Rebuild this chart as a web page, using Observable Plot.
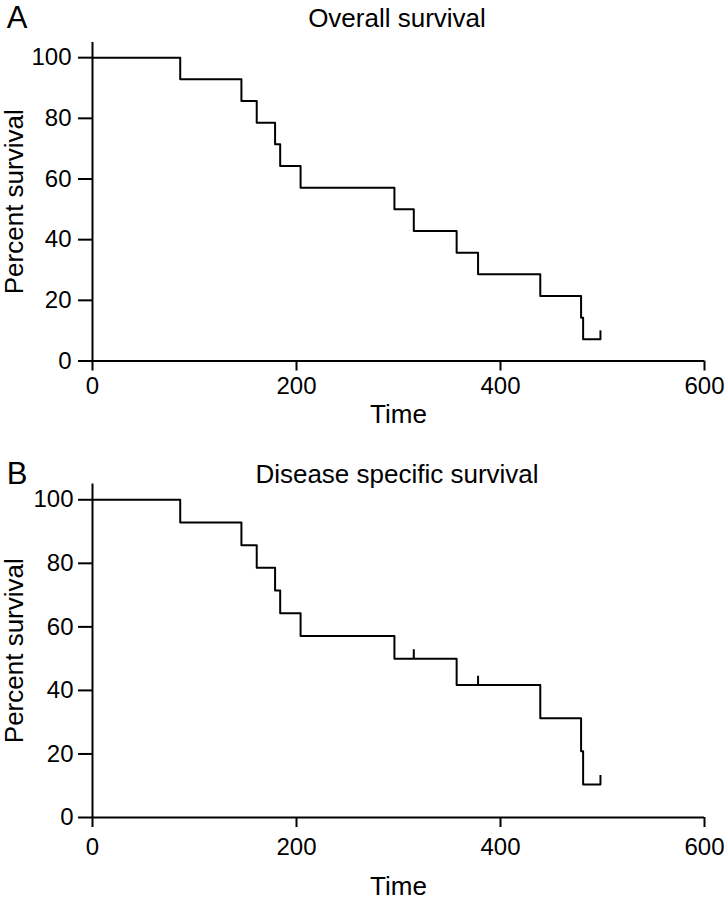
<!DOCTYPE html>
<html>
<head>
<meta charset="utf-8">
<script src="https://cdn.jsdelivr.net/npm/d3@7"></script>
<script src="https://cdn.jsdelivr.net/npm/@observablehq/plot@0.6"></script>
<style>
  html, body { margin: 0; padding: 0; background: #fff; }
  #wrap { position: relative; width: 728px; height: 900px; }
  #wrap svg { display: block; }
</style>
</head>
<body>
<div id="wrap"></div>
<script>
// ---- Data ----
const xTicks = [0, 200, 400, 600];
const yTicks = [0, 20, 40, 60, 80, 100];

// Panel A: Overall survival
const titleA = "Overall survival";
const timesA = [0, 86, 146, 161, 179, 184, 204, 296, 315, 357, 378, 439, 479, 481, 498];
const survA  = [100, 92.86, 85.71, 78.57, 71.43, 64.29, 57.14, 50, 42.86, 35.71, 28.57, 21.43, 14.29, 7.14, 7.14];
const censorTimesA = [498];
const censorSurvA  = [7.14];

// Panel B: Disease specific survival
const titleB = "Disease specific survival";
const timesB = [0, 86, 146, 161, 179, 184, 204, 296, 357, 439, 479, 481, 498];
const survB  = [100, 92.86, 85.71, 78.57, 71.43, 64.29, 57.14, 50, 41.67, 31.25, 20.83, 10.42, 10.42];
const censorTimesB = [315, 378, 498];
const censorSurvB  = [50, 41.67, 10.42];

const xLabel = "Time";
const yLabel = "Percent survival";

const FONT = "'Liberation Sans', Arial, Helvetica, sans-serif";

function panel({letter, title, times, surv, cTimes, cSurv, height, marginTop, marginBottom, titleDy, letterDy, timeDy, xPad, yPad}) {
  const line = times.map((t, i) => ({t, s: surv[i]}));
  const cens = cTimes.map((t, i) => ({t, s: cSurv[i]}));
  return Plot.plot({
    width: 728,
    height,
    marginLeft: 92,
    marginRight: 24,
    marginTop,
    marginBottom,
    style: {fontFamily: FONT, fontSize: "24px", color: "#000", background: "#fff", overflow: "visible"},
    x: {domain: [0, 600]},
    y: {domain: [0, 105]},
    marks: [
      Plot.axisY({ticks: yTicks, tickSize: 14, tickPadding: yPad, strokeWidth: 2, label: null, fontSize: 24}),
      Plot.axisX({ticks: xTicks, tickSize: 10, tickPadding: xPad, strokeWidth: 2, label: null, fontSize: 24}),
      Plot.ruleX([0], {y1: 0, y2: 105, strokeWidth: 2}),
      Plot.ruleY([0], {x1: 0, x2: 600, strokeWidth: 2}),
      Plot.line(line, {x: "t", y: "s", curve: "step-after", strokeWidth: 2, stroke: "#000"}),
      Plot.ruleX(cens, {x: "t", y1: "s", y2: d => d.s + 2.8, strokeWidth: 2, stroke: "#000"}),
      Plot.text([title], {frameAnchor: "top", dx: -1.5, dy: titleDy, fontSize: 26, lineAnchor: "middle"}),
      Plot.text([letter], {frameAnchor: "top-left", dx: -75.5, dy: letterDy, fontSize: 31, textAnchor: "middle", lineAnchor: "middle"}),
      Plot.text([yLabel], {frameAnchor: "left", dx: -78, rotate: -90, fontSize: 26, textAnchor: "middle", lineAnchor: "middle"}),
      Plot.text([xLabel], {frameAnchor: "bottom", dy: timeDy, fontSize: 26, lineAnchor: "middle"})
    ]
  });
}

const wrap = document.getElementById("wrap");
wrap.appendChild(panel({
  letter: "A", title: titleA, times: timesA, surv: survA, cTimes: censorTimesA, cSurv: censorSurvA,
  height: 440, marginTop: 42, marginBottom: 79.5, titleDy: -23.5, letterDy: -24, timeDy: 54, xPad: 6, yPad: 7
}));
wrap.appendChild(panel({
  letter: "B", title: titleB, times: timesB, surv: survB, cTimes: censorTimesB, cSurv: censorSurvB,
  height: 460, marginTop: 43.4, marginBottom: 83, titleDy: -9.4, letterDy: -9.4, timeDy: 69, xPad: 10, yPad: 5
}));
</script>
</body>
</html>
